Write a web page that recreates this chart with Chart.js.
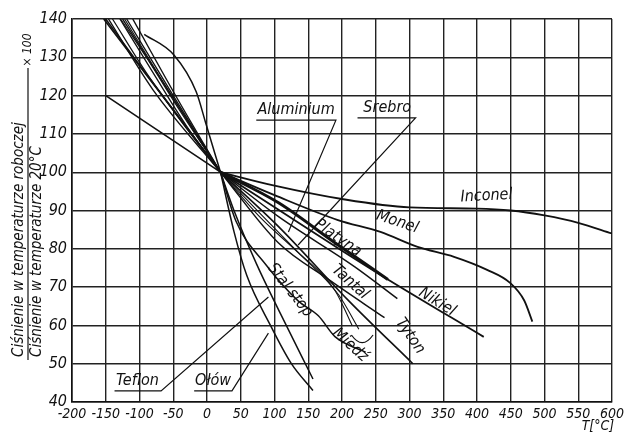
<!DOCTYPE html>
<html>
<head>
<meta charset="utf-8">
<script src="https://cdn.jsdelivr.net/npm/chart.js@4/dist/chart.umd.min.js"></script>
<style>
  html, body { margin: 0; padding: 0; background: #fff; }
  #wrap { width: 628px; height: 434px; }
</style>
</head>
<body>
<div id="wrap"><canvas id="graph1" width="628" height="434"></canvas></div>
<script>
// temperature T [°C] vs pressure ratio x100
var xTicks = [-200, -150, -100, -50, 0, 50, 100, 150, 200, 250, 300, 350, 400, 450, 500, 550, 600];
var yTicks = [40, 50, 60, 70, 80, 90, 100, 110, 120, 130, 140];

// below 20 °C
var inconelL = [[-150,120],[20,100]];
var monelL = [[-153,140],[20,100]];
var platynaL = [[-150,140],[-100,128],[-40,114],[20,100]];
var nikielL = [[-146,140],[-80,121.5],[20,100]];
var tantalL = [[-129,140],[-80,126],[-30,112],[20,100]];
var tytonL = [[-125,140],[-60,122],[20,100]];
var miedzL = [[-140,140],[-90,126],[-20,109],[20,100]];
var aluminiumL = [[-128,140],[-90,130],[-40,116],[20,100]];
var srebroL = [[-122,140],[-70,125],[-20,111],[20,100]];
var stalStopL = [[-119,140],[-50,120],[20,100]];
var teflonL = [[-93,136],[-49,130.6],[-16,121],[-1,112.3],[20,100]];
var olowL = [[-110,140],[-40,118],[20,100]];

// above 20 °C
var inconelR = [[20,100],[100,96.5],[200,93],[300,90.8],[400,90.5],[450,90],[500,88.7],[550,86.8],[600,84]];
var monelR = [[20,100],[100,94],[194,87.5],[257,84.4],[312,80.5],[366,77.9],[415,74.5],[449,71.1],[470,66.5],[482,61]];
var platynaR = [[20,100],[106,92],[190,81.5],[268,72]];
var nikielR = [[20,100],[106,90.2],[200,79.5],[268,72],[410,57]];
var tantalR = [[20,100],[106,88.4],[219,75.3],[282,67]];
var tytonR = [[20,100],[106,85.8],[209,66.6],[305,50]];
var miedzR = [[20,100],[106,81.5],[180,72],[263,62]];
var aluminiumR = [[20,100],[80,89],[130,80],[190,69],[215,60]];
var srebroR = [[20,100],[80,88],[135,79],[195,68],[225,59]];
var stalStopR = [[20,100],[43,87.2],[87,75.9],[135,66.4],[165,62.5],[190,57],[235,53]];
var teflonR = [[20,100],[40,90],[73.5,76],[109,63],[157,46]];
var olowR = [[20,100],[40,84.5],[59,73],[94,60],[125,50],[157,43]];

// name, center x, center y, rotation (deg)
var curveLabels = [
  ["Inconel", 414, 93.8, -3],
  ["Monel", 282, 87, 18],
  ["Platyna", 194, 82.8, 35],
  ["Tantal", 212, 71.3, 42],
  ["Nikiel", 341, 66.1, 32],
  ["Tyton", 301, 57.2, 55],
  ["Miedź", 212, 54.9, 42],
  ["Stal stop", 123, 69.2, 52]
];
// underlined labels with a leader line: name, x, y, underline x0, x1, leader end x, y
var leaderLabels = [
  ["Aluminium", 132, 116.2, 73, 191, 120.6, 84.4],
  ["Srebro", 267, 116.8, 223, 309, 135, 81],
  ["Teflon", -103, 45.5, -137, -68, 91, 67.4],
  ["Ołów", 9, 45.5, -19, 37, 91, 58]
];

function pts(a) {
  return a.map(function (p) { return { x: p[0], y: p[1] }; });
}

function curve(name, arr, w) {
  return {
    label: name,
    data: pts(arr),
    showLine: true,
    borderColor: '#111',
    borderWidth: w || 1.6,
    pointRadius: 0,
    cubicInterpolationMode: 'monotone',
    fill: false
  };
}

var FONT = "'Liberation Sans Narrow', 'DejaVu Sans Condensed', 'Liberation Sans', sans-serif";

var textPlugin = {
  id: 'textPlugin',
  afterDraw: function (chart) {
    var ctx = chart.ctx, xs = chart.scales.x, ys = chart.scales.y, a = chart.chartArea;
    ctx.save();
    ctx.fillStyle = '#111';
    ctx.strokeStyle = '#111';
    ctx.textAlign = 'center';
    ctx.textBaseline = 'middle';
    ctx.font = 'italic 16px ' + FONT;

    curveLabels.forEach(function (l) {
      var px = xs.getPixelForValue(l[1]), py = ys.getPixelForValue(l[2]);
      ctx.save();
      ctx.translate(px, py);
      ctx.rotate(l[3] * Math.PI / 180);
      ctx.fillText(l[0], 0, 0);
      ctx.restore();
    });

    leaderLabels.forEach(function (l) {
      var px = xs.getPixelForValue(l[1]), py = ys.getPixelForValue(l[2]);
      ctx.fillText(l[0], px, py);
      var uy = py + 10;
      ctx.lineWidth = 1.2;
      ctx.beginPath();
      ctx.moveTo(xs.getPixelForValue(l[3]), uy);
      ctx.lineTo(xs.getPixelForValue(l[4]), uy);
      ctx.lineTo(xs.getPixelForValue(l[5]), ys.getPixelForValue(l[6]));
      ctx.stroke();
    });

    // little bracket under Miedź
    ctx.lineWidth = 1.2;
    ctx.beginPath();
    ctx.moveTo(xs.getPixelForValue(214), ys.getPixelForValue(57.5));
    ctx.quadraticCurveTo(xs.getPixelForValue(230), ys.getPixelForValue(53.5),
                         xs.getPixelForValue(246), ys.getPixelForValue(57.5));
    ctx.stroke();

    // y axis title as a fraction
    ctx.font = 'italic 15px ' + FONT;
    ctx.textAlign = 'left';
    ctx.save();
    ctx.translate(19, 357);
    ctx.rotate(-Math.PI / 2);
    ctx.fillText('Ciśnienie w temperaturze roboczej', 0, 0);
    ctx.restore();
    ctx.save();
    ctx.translate(37, 357);
    ctx.rotate(-Math.PI / 2);
    ctx.fillText('Ciśnienie w temperaturze 20°C', 0, 0);
    ctx.restore();
    ctx.lineWidth = 1.2;
    ctx.beginPath();
    ctx.moveTo(28, 360);
    ctx.lineTo(28, 68);
    ctx.stroke();
    ctx.save();
    ctx.translate(28, 50);
    ctx.rotate(-Math.PI / 2);
    ctx.textAlign = 'center';
    ctx.font = 'italic 12px ' + FONT;
    ctx.fillText('× 100', 0, 0);
    ctx.restore();

    // x axis title
    ctx.textAlign = 'center';
    ctx.font = 'italic 14px ' + FONT;
    ctx.fillText('T[°C]', a.right - 14, a.bottom + 24);
    ctx.restore();
  }
};

var ctx = document.getElementById('graph1').getContext('2d');
var chart = new Chart(ctx, {
  type: 'scatter',
  data: {
    datasets: [
      curve('Inconel', inconelL, 1.6), curve('Inconel', inconelR, 1.8),
      curve('Monel', monelL, 1.6), curve('Monel', monelR, 1.8),
      curve('Platyna', platynaL, 1.6), curve('Platyna', platynaR, 3),
      curve('Nikiel', nikielL, 1.4), curve('Nikiel', nikielR, 1.8),
      curve('Tantal', tantalL, 1.3), curve('Tantal', tantalR, 1.5),
      curve('Tyton', tytonL, 1.4), curve('Tyton', tytonR, 1.6),
      curve('Miedź', miedzL, 1.2), curve('Miedź', miedzR, 1.5),
      curve('Aluminium', aluminiumL, 1.1), curve('Aluminium', aluminiumR, 1.1),
      curve('Srebro', srebroL, 1.1), curve('Srebro', srebroR, 1.1),
      curve('Stal stop', stalStopL, 1.3), curve('Stal stop', stalStopR, 1.5),
      curve('Teflon', teflonL, 1.5), curve('Teflon', teflonR, 1.5),
      curve('Ołów', olowL, 1.4), curve('Ołów', olowR, 1.5)
    ]
  },
  options: {
    responsive: false,
    animation: false,
    layout: { padding: { top: 19, right: 12, left: 0, bottom: 0 } },
    plugins: {
      legend: { display: false },
      tooltip: { enabled: false },
      title: { display: false }
    },
    scales: {
      x: {
        type: 'linear',
        min: -200,
        max: 600,
        afterBuildTicks: function (s) { s.ticks = xTicks.map(function (v) { return { value: v }; }); },
        afterFit: function (s) { s.height = 32; },
        border: { color: '#111', width: 1.6 },
        grid: { color: '#222', lineWidth: 1.4, drawTicks: false },
        ticks: {
          autoSkip: false,
          maxRotation: 0,
          padding: 4,
          color: '#111',
          font: { family: FONT, size: 14, style: 'italic' }
        }
      },
      y: {
        type: 'linear',
        min: 40,
        max: 140,
        afterBuildTicks: function (s) { s.ticks = yTicks.map(function (v) { return { value: v }; }); },
        afterFit: function (s) { s.width = 72; },
        border: { color: '#111', width: 1.6 },
        grid: { color: '#222', lineWidth: 1.4, drawTicks: false },
        ticks: {
          padding: 5,
          color: '#111',
          font: { family: FONT, size: 16, style: 'italic' }
        }
      }
    }
  },
  plugins: [textPlugin]
});
</script>
</body>
</html>
